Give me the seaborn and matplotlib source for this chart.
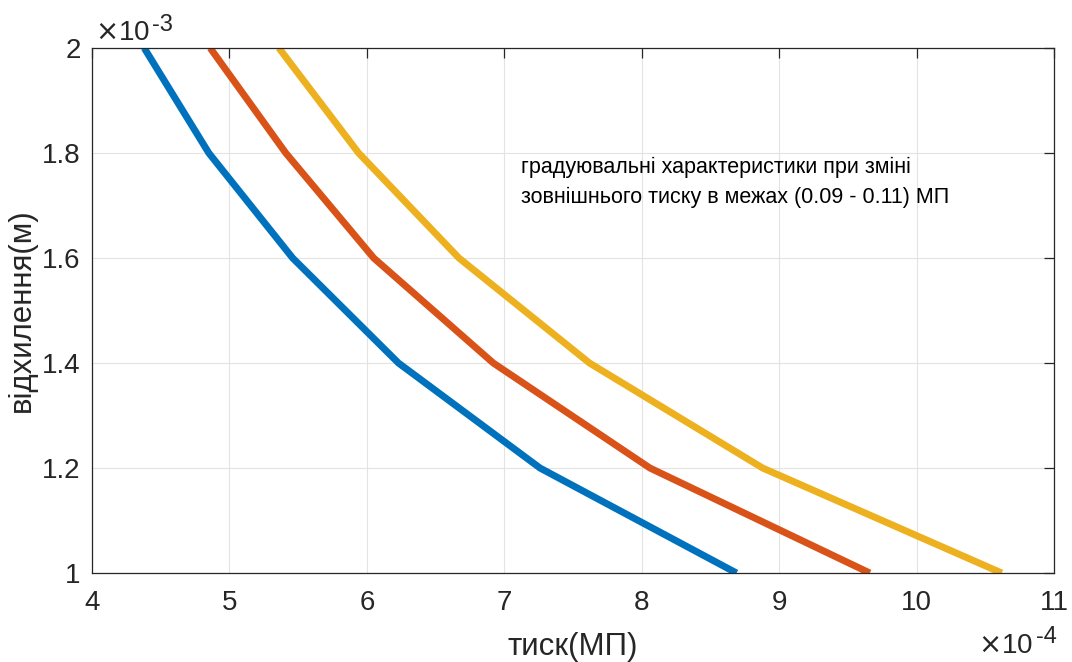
import matplotlib
matplotlib.use('Agg')
import matplotlib.pyplot as plt
import matplotlib.ticker as mticker
import pandas as pd
import seaborn as sns

# deflection levels (m) and pressure readings (MPa) for the three curves
deflection = [2.0e-3, 1.8e-3, 1.6e-3, 1.4e-3, 1.2e-3, 1.0e-3]
p_blue = [4.38e-4, 4.85e-4, 5.46e-4, 6.23e-4, 7.26e-4, 8.69e-4]
p_red = [4.86e-4, 5.41e-4, 6.05e-4, 6.92e-4, 8.06e-4, 9.66e-4]
p_yellow = [5.36e-4, 5.94e-4, 6.67e-4, 7.62e-4, 8.88e-4, 10.62e-4]
series_names = ['0.09', '0.10', '0.11']
colors = ['#0072BD', '#D95319', '#EDB120']

x_ticks = [4e-4, 5e-4, 6e-4, 7e-4, 8e-4, 9e-4, 10e-4, 11e-4]
y_ticks = [1.0e-3, 1.2e-3, 1.4e-3, 1.6e-3, 1.8e-3, 2.0e-3]

df = pd.DataFrame({
    'p': p_blue + p_red + p_yellow,
    'd': deflection * 3,
    'series': [s for s in series_names for _ in deflection],
})

sns.set_style('white')
plt.rcParams['font.family'] = ['Liberation Sans', 'DejaVu Sans']
dark = '#262626'

fig = plt.figure(figsize=(10.72, 6.62), dpi=100)
ax = fig.add_axes([0.0858, 0.1344, 0.8974, 0.7931])

sns.lineplot(data=df, x='p', y='d', hue='series', palette=colors, sort=False,
             linewidth=5, legend=False, ax=ax, solid_capstyle='butt')

ax.set_xlim(4e-4, 11e-4)
ax.set_ylim(1e-3, 2e-3)
ax.set_xticks(x_ticks)
ax.set_yticks(y_ticks)
ax.xaxis.set_major_formatter(mticker.FuncFormatter(lambda v, pos: f'{v / 1e-4:g}'))
ax.yaxis.set_major_formatter(mticker.FuncFormatter(lambda v, pos: f'{v / 1e-3:g}'))

ax.grid(True, color='#e3e3e3', linewidth=0.8)
ax.set_axisbelow(True)
for sp in ax.spines.values():
    sp.set_color(dark)
    sp.set_linewidth(0.9)
ax.tick_params(direction='in', length=7, width=0.9, colors=dark, labelsize=20,
               top=True, right=True)
ax.tick_params(axis='x', pad=12)
ax.tick_params(axis='y', pad=8)

ax.set_xlabel('тиск(МП)', fontsize=22.5, color=dark)
ax.set_ylabel('відхилення(м)', fontsize=22.5, color=dark)
ax.xaxis.set_label_coords(0.5, -0.112)
ax.yaxis.set_label_coords(-0.057, 0.5)

# exponent labels in MATLAB style
fig.text(95 / 1072, 1 - 40 / 662, r'$\times$10', fontsize=20, color=dark,
         ha='left', va='baseline')
fig.text(152 / 1072, 1 - 31 / 662, '-3', fontsize=17, color=dark,
         ha='left', va='baseline')
fig.text(978 / 1072, 1 - 653 / 662, r'$\times$10', fontsize=20, color=dark,
         ha='left', va='baseline')
fig.text(1036 / 1072, 1 - 643 / 662, '-4', fontsize=17, color=dark,
         ha='left', va='baseline')

ax.text(7.125e-4, 1.744e-3,
        'градуювальні характеристики при зміні\nзовнішнього тиску в межах (0.09 - 0.11) МП',
        fontsize=15.5, color='black', ha='left', va='center', linespacing=1.5)

fig.savefig('out.png', dpi=100)
